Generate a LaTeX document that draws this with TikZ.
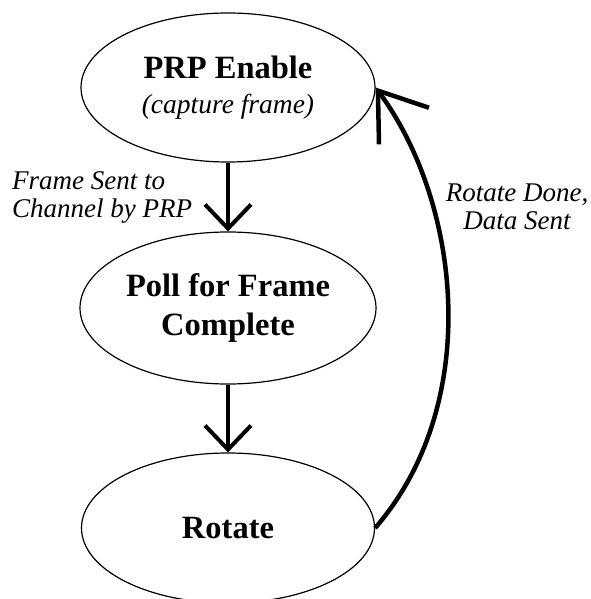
\documentclass[tikz,border=0pt]{standalone}
\usepackage{fontspec}
\setmainfont{Liberation Serif}
\usetikzlibrary{arrows.meta,shapes.geometric}
\begin{document}
\begin{tikzpicture}[x=1pt,y=-1pt,
  state/.style={ellipse, draw, line width=1.2pt, inner sep=0pt, align=center,
    font=\fontsize{32.5}{39}\selectfont\bfseries},
  flow/.style={line width=4pt, -{Straight Barb[length=24pt,width=46pt,line width=4pt]}},
  back/.style={line width=4.5pt, -{Straight Barb[length=44pt,width=62pt,line width=4.5pt]}},
  lbl/.style={inner sep=0pt, font=\fontsize{27}{28}\selectfont\itshape}]
\useasboundingbox (0,0) rectangle (590,599);
\node[state, minimum width=294pt, minimum height=149pt] (prp) at (228,87.5)
  {PRP Enable\\[-4pt]{\fontsize{27.5}{28}\selectfont\mdseries\itshape (capture frame)}};
\node[state, minimum width=296pt, minimum height=152pt] (poll) at (228,308)
  {Poll for Frame\\Complete};
\node[state, minimum width=293pt, minimum height=150pt] (rot) at (228,528) {Rotate};
\draw[flow] (prp.south) -- (poll.north);
\draw[flow] (poll.south) -- (rot.north);
\draw[back] (rot.east) .. controls (482,405) and (462,205) .. (prp.east);
\node[lbl, align=left, anchor=west] (l1) at (12,197) {Frame Sent to\\Channel by PRP};
\node[lbl, align=center] (l2) at (517,207) {Rotate Done,\\Data Sent};
\end{tikzpicture}
\end{document}
